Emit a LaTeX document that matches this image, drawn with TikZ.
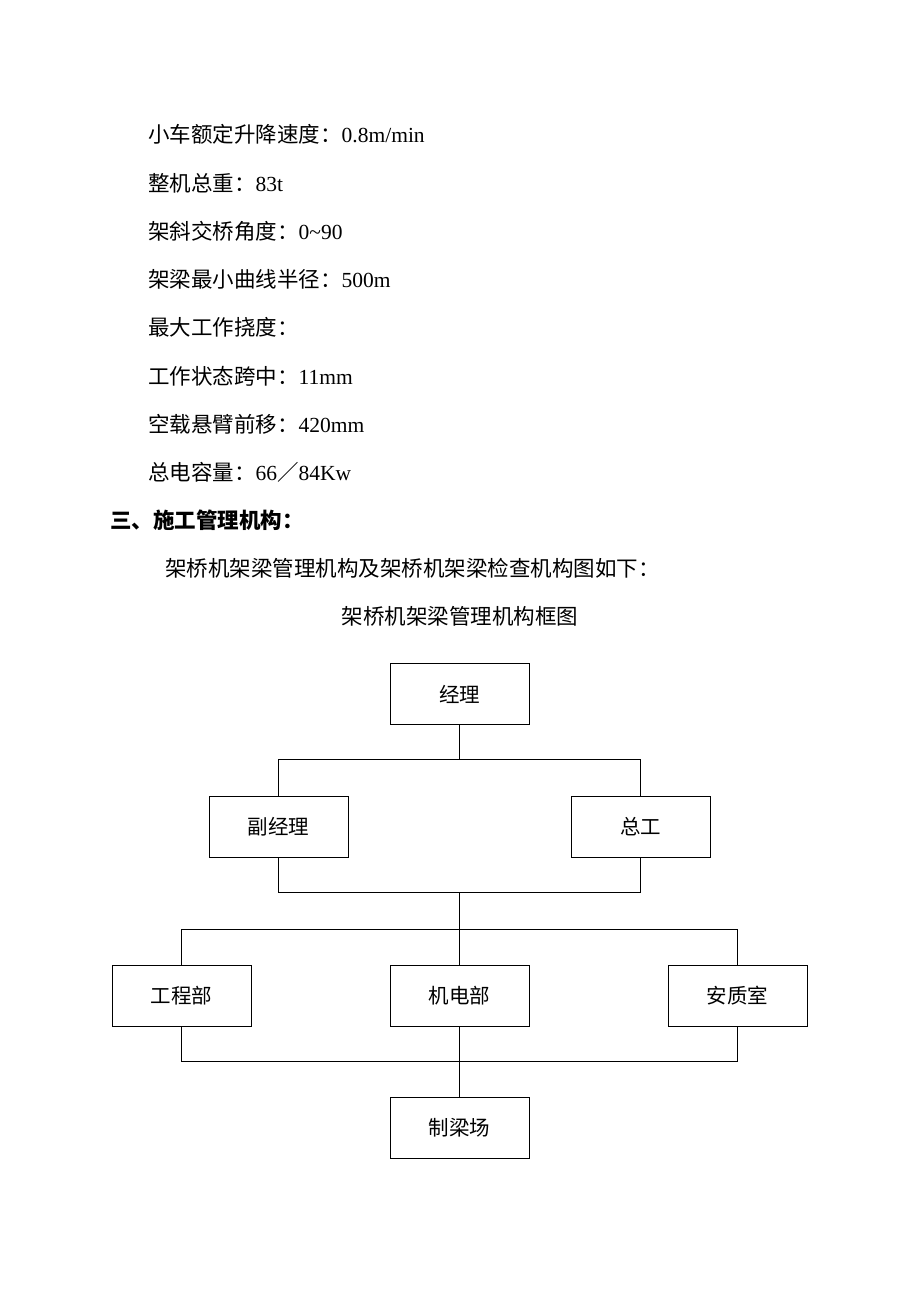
\documentclass[tikz,border=0pt]{standalone}
\usepackage{fontspec}
\setmainfont{Liberation Serif}
\newfontfamily\cjk{Noto Sans CJK SC}
\usetikzlibrary{positioning}

\begin{document}
\begin{tikzpicture}[x=1pt, y=-1pt,
                    box/.style={draw, line width=1pt, minimum width=139pt, minimum height=61pt,
                                font=\cjk\fontsize{20.5}{24}\selectfont},
                    txt/.style={anchor=west, inner sep=0pt, font=\fontsize{21.5}{25}\selectfont},
                    link/.style={draw, line width=1pt}]
    \useasboundingbox (0,0) rectangle (920,1302);
    % text above the chart
    \node[txt] (l1) at (148,134) {\cjk 小车额定升降速度：\rmfamily 0.8m/min};
    \node[txt] (l2) at (148,183) {\cjk 整机总重：\rmfamily 83t};
    \node[txt] (l3) at (148,231) {\cjk 架斜交桥角度：\rmfamily 0\char`\~90};
    \node[txt] (l4) at (148,279) {\cjk 架梁最小曲线半径：\rmfamily 500m};
    \node[txt] (l5) at (148,327) {\cjk 最大工作挠度：};
    \node[txt] (l6) at (148,376) {\cjk 工作状态跨中：\rmfamily 11mm};
    \node[txt] (l7) at (148,424) {\cjk 空载悬臂前移：\rmfamily 420mm};
    \node[txt] (l8) at (148,472) {\cjk 总电容量：\rmfamily 66\cjk ／\rmfamily 84Kw};
    \node[txt] (head) at (110,520) {\cjk\bfseries 三、施工管理机构：};
    \node[txt] (intro) at (165,568) {\cjk 架桥机架梁管理机构及架桥机架梁检查机构图如下：};
    \node[txt, anchor=center] (title) at (460,616) {\cjk 架桥机架梁管理机构框图};
    % boxes
    \node[box] (jl)  at (459.5,694)   {经理};
    \node[box] (fjl) at (278.5,826.5) {副经理};
    \node[box] (zg)  at (640.5,826.5) {总工};
    \node[box] (gcb) at (181.5,995.5) {工程部};
    \node[box] (jdb) at (459.5,995.5) {机电部};
    \node[box] (azs) at (737.5,995.5) {安质室};
    \node[box] (zlc) at (459.5,1128)  {制梁场};
    % bus points
    \coordinate (bus1) at (459.5,759);
    \coordinate (bus2) at (459.5,892);
    \coordinate (bus3) at (459.5,929);
    \coordinate (bus4) at (459.5,1061);
    % connectors
    \draw[link] (jl) -- (bus1);
    \draw[link] (fjl.north) |- (bus1) -| (zg.north);
    \draw[link] (fjl.south) |- (bus2) -| (zg.south);
    \draw[link] (bus2) -- (jdb);
    \draw[link] (gcb.north) |- (bus3) -| (azs.north);
    \draw[link] (gcb.south) |- (bus4) -| (azs.south);
    \draw[link] (jdb) -- (zlc);
\end{tikzpicture}
\end{document}
